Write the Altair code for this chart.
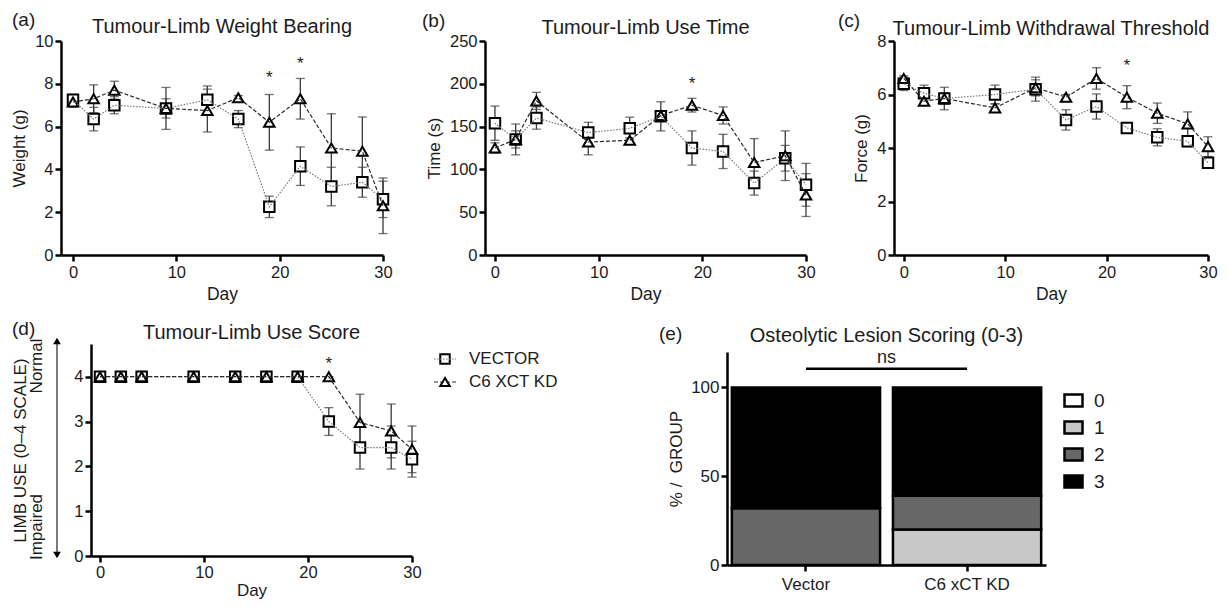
import altair as alt
import pandas as pd

FONT = "Liberation Sans"
TXT = "#1c1c1c"
ERR = "#3a3a3a"

days = [0, 2, 4, 9, 13, 16, 19, 22, 25, 28, 30]
series = ["VECTOR", "C6 XCT KD"]

# (a) Tumour-Limb Weight Bearing, g
wb_vec = [7.25, 6.35, 7.00, 6.85, 7.25, 6.35, 2.25, 4.15, 3.20, 3.40, 2.60]
wb_vec_err = [0.25, 0.55, 0.40, 0.45, 0.65, 0.40, 0.50, 0.90, 0.90, 0.70, 0.85]
wb_kd = [7.15, 7.30, 7.70, 6.85, 6.75, 7.35, 6.20, 7.30, 5.00, 4.85, 2.30]
wb_kd_err = [0.25, 0.65, 0.42, 0.98, 1.00, 0.10, 1.30, 0.95, 1.60, 1.60, 1.30]
wb_star_day = [19, 22]
wb_star_y = [8.5, 9.15]

# (b) Tumour-Limb Use Time, s
ut_vec = [154, 135, 160, 143, 148, 162, 125, 121, 84, 113, 82]
ut_vec_err = [20, 18, 13, 12, 13, 17, 20, 20, 14, 15, 25]
ut_kd = [125, 135, 180, 132, 134, 163, 175, 163, 108, 116, 70]
ut_kd_err = [6, 10, 10, 15, 3, 5, 8, 10, 28, 29, 25]
ut_star_day = [19]
ut_star_y = [206]

# (c) Tumour-Limb Withdrawal Threshold, g
wt_vec = [6.40, 6.05, 5.85, 6.00, 6.20, 5.05, 5.55, 4.75, 4.40, 4.25, 3.45]
wt_vec_err = [0.25, 0.30, 0.42, 0.35, 0.45, 0.38, 0.47, 0.12, 0.32, 0.20, 0.15]
wt_kd = [6.60, 5.75, 5.85, 5.50, 6.25, 5.90, 6.60, 5.90, 5.30, 4.90, 4.05]
wt_kd_err = [0.10, 0.15, 0.20, 0.15, 0.30, 0.10, 0.40, 0.43, 0.38, 0.45, 0.37]
wt_star_day = [22]
wt_star_y = [7.24]

# (d) Tumour-Limb Use Score, 0-4
us_vec = [4, 4, 4, 4, 4, 4, 4, 3.00, 2.42, 2.42, 2.16]
us_vec_err = [0, 0, 0, 0, 0, 0, 0, 0.31, 0.48, 0.48, 0.40]
us_kd = [4, 4, 4, 4, 4, 4, 4, 4, 2.98, 2.79, 2.38]
us_kd_err = [0, 0, 0, 0, 0, 0, 0, 0, 0.63, 0.60, 0.52]
us_star_day = [22]
us_star_y = [4.4]

# (e) Osteolytic Lesion Scoring, % of group
groups = ["Vector", "C6 xCT KD"]
scores = ["0", "1", "2", "3"]
score_colors = ["#ffffff", "#c8c8c8", "#676767", "#000000"]
pct_vector = [0, 0, 32, 68]
pct_kd = [0, 20, 19, 61]

SHAPES = ["square", "triangle-up"]
LINE_COLORS = ["#7a7a7a", "#2a2a2a"]
DASHES = [[1.5, 1.5], [4, 2]]


def series_df(vec, vec_err, kd, kd_err):
    rows = []
    for name, vals, errs in ((series[0], vec, vec_err), (series[1], kd, kd_err)):
        for d, v, e in zip(days, vals, errs):
            rows.append({"day": d, "value": v, "lo": v - e, "hi": v + e, "series": name})
    return pd.DataFrame(rows)


def txt(label, x, y, size, align="left", baseline="alphabetic", angle=0):
    kw = dict(align=align, baseline=baseline, fontSize=size, font=FONT, color=TXT)
    if angle:
        kw["angle"] = angle
    return alt.Chart(pd.DataFrame({"t": [label]})).mark_text(**kw).encode(
        x=alt.value(x), y=alt.value(y), text="t:N")


def line_panel(df, star_day, star_y, ydom, yticks, ytitle, w, h, xmin, title,
               label, label_x, label_y, title_y, ytitle_pad=6, extra=(),
               x_label_pad=3, x_title_pad=5, x_title_size=17.5):
    xs = alt.Scale(domain=[xmin, 30], nice=False, zero=False)
    ys = alt.Scale(domain=ydom, nice=False, zero=False)
    xax = alt.Axis(values=[0, 10, 20, 30], title="Day", labelPadding=x_label_pad,
                   titlePadding=x_title_pad, titleFontSize=x_title_size)
    yax = alt.Axis(values=yticks, title=ytitle, titlePadding=ytitle_pad)

    def X(f):
        return alt.X(f, type="quantitative", scale=xs, axis=xax)

    def Y(f):
        return alt.Y(f, type="quantitative", scale=ys, axis=yax)

    base = alt.Chart(df)
    bars = base.mark_rule(color=ERR, strokeWidth=1.3).encode(x=X("day"), y=Y("lo"), y2="hi")
    cap_lo = base.mark_tick(orient="horizontal", size=9, thickness=1.3, color=ERR).encode(
        x=X("day"), y=Y("lo"))
    cap_hi = base.mark_tick(orient="horizontal", size=9, thickness=1.3, color=ERR).encode(
        x=X("day"), y=Y("hi"))
    pts = base.mark_point(filled=True, fill="white", stroke="black", strokeWidth=2,
                          size=110, opacity=1).encode(
        x=X("day"), y=Y("value"),
        shape=alt.Shape("series:N", scale=alt.Scale(domain=series, range=SHAPES), legend=None))
    lines = base.mark_line(strokeWidth=1.2).encode(
        x=X("day"), y=Y("value"),
        color=alt.Color("series:N", scale=alt.Scale(domain=series, range=LINE_COLORS), legend=None),
        strokeDash=alt.StrokeDash("series:N", scale=alt.Scale(domain=series, range=DASHES), legend=None))
    stars = alt.Chart(pd.DataFrame({"day": star_day, "value": star_y})).mark_text(
        text="*", fontSize=17, font=FONT, color=TXT, baseline="middle", dy=5).encode(
        x=X("day"), y=Y("value"))
    layers = [bars, cap_lo, cap_hi, pts, lines, stars,
              txt(title, w / 2, title_y, 20, align="center"),
              txt(label, label_x, label_y, 19)] + list(extra)
    return alt.layer(*layers).properties(width=w, height=h)


A = line_panel(series_df(wb_vec, wb_vec_err, wb_kd, wb_kd_err), wb_star_day, wb_star_y,
               [0, 10], [0, 2, 4, 6, 8, 10], "Weight (g)", 322, 214, -1.16,
               "Tumour-Limb Weight Bearing", "(a)", -49, -15, -8)
B = line_panel(series_df(ut_vec, ut_vec_err, ut_kd, ut_kd_err), ut_star_day, ut_star_y,
               [0, 250], [0, 50, 100, 150, 200, 250], "Time (s)", 321, 214, -0.96,
               "Tumour-Limb Use Time", "(b)", -63, -14, -7)
C = line_panel(series_df(wt_vec, wt_vec_err, wt_kd, wt_kd_err), wt_star_day, wt_star_y,
               [0, 8], [0, 2, 4, 6, 8], "Force (g)", 314, 214, -0.96,
               "Tumour-Limb Withdrawal Threshold", "(c)", -56, -14, -6)

# (d) extra annotations on the left of the axis
arrow_shaft = alt.Chart(pd.DataFrame({"a": [0]})).mark_rule(color="#333333", strokeWidth=1.3).encode(
    x=alt.value(-34), y=alt.value(-4), y2=alt.value(212))
arrow_up = alt.Chart(pd.DataFrame({"a": [0]})).mark_point(
    shape="triangle-up", filled=True, color="black", size=60, opacity=1).encode(
    x=alt.value(-34), y=alt.value(-3))
arrow_dn = alt.Chart(pd.DataFrame({"a": [0]})).mark_point(
    shape="triangle-down", filled=True, color="black", size=60, opacity=1).encode(
    x=alt.value(-34), y=alt.value(211))
normal_t = txt("Normal", -49, 22, 17, align="center", angle=270)
impaired_t = txt("Impaired", -49, 183, 17, align="center", angle=270)

D = line_panel(series_df(us_vec, us_vec_err, us_kd, us_kd_err), us_star_day, us_star_y,
               [0, 4.73], [0, 1, 2, 3, 4], "LIMB USE (0\u20134 SCALE)", 321, 212, -0.87,
               "Tumour-Limb Use Score", "(d)", -79, -9, -5, ytitle_pad=44,
               extra=(arrow_shaft, arrow_up, arrow_dn, normal_t, impaired_t),
               x_label_pad=2, x_title_pad=2, x_title_size=17)

# legend for (d)
ld = pd.DataFrame({"series": series})
ysl = alt.Scale(domain=series, range=[15, 38], type="point", padding=0)
leg_pt = alt.Chart(ld).mark_point(filled=True, fill="white", stroke="black", strokeWidth=2,
                                  size=90, opacity=1).encode(
    x=alt.value(33), y=alt.Y("series:N", scale=ysl, axis=None),
    shape=alt.Shape("series:N", scale=alt.Scale(domain=series, range=SHAPES), legend=None))
leg_line = alt.Chart(ld).mark_rule(strokeWidth=1.2).encode(
    x=alt.value(22), x2=alt.value(44), y=alt.Y("series:N", scale=ysl, axis=None),
    color=alt.Color("series:N", scale=alt.Scale(domain=series, range=LINE_COLORS), legend=None),
    strokeDash=alt.StrokeDash("series:N", scale=alt.Scale(domain=series, range=DASHES), legend=None))
leg_txt = alt.Chart(ld).mark_text(align="left", baseline="middle", fontSize=17, font=FONT,
                                  color=TXT).encode(
    x=alt.value(57), y=alt.Y("series:N", scale=ysl, axis=None), text="series:N")
legend_d = alt.layer(leg_pt, leg_line, leg_txt).properties(width=315, height=212)

# (e) stacked bars
df_e = pd.DataFrame([{"group": g, "score": s, "pct": p}
                     for g, vals in zip(groups, [pct_vector, pct_kd])
                     for s, p in zip(scores, vals) if p > 0])
EW, EH = 319, 213
xs_e = alt.Scale(domain=groups, paddingInner=0.08, paddingOuter=0.03)
ys_e = alt.Scale(domain=[0, 120], nice=False)
xax_e = alt.Axis(title=None, labelAngle=0, labelFontSize=17, labelPadding=5)
yax_e = alt.Axis(values=[0, 50, 100], title="% /\u00a0 GROUP", titlePadding=5, labelFontSize=17)

bars_e = alt.Chart(df_e).mark_bar(stroke="black", strokeWidth=2.5).encode(
    x=alt.X("group:N", scale=xs_e, axis=xax_e),
    y=alt.Y("pct:Q", stack="zero", scale=ys_e, axis=yax_e),
    fill=alt.Fill("score:N", scale=alt.Scale(domain=scores, range=score_colors),
                  legend=alt.Legend(title=None, orient="none", legendX=1002, legendY=349,
                                    symbolType="M-1,-0.68L1,-0.68L1,0.68L-1,0.68Z",
                                    symbolSize=324, symbolStrokeColor="black",
                                    symbolStrokeWidth=2.5, labelFontSize=19, labelFont=FONT,
                                    labelColor=TXT, labelOffset=10, rowPadding=4, padding=0)),
    order=alt.Order("score:N", sort="ascending"))
ns_df = pd.DataFrame({"group": [groups[0]], "group2": [groups[1]], "pct": [110.5]})
ns_line = alt.Chart(ns_df).mark_rule(color="black", strokeWidth=2.5).encode(
    x=alt.X("group:N", scale=xs_e, axis=xax_e), x2="group2:N",
    y=alt.Y("pct:Q", scale=ys_e, axis=yax_e))
ns_txt = alt.Chart(pd.DataFrame({"t": ["ns"], "pct": [114]})).mark_text(
    align="center", baseline="alphabetic", fontSize=18, font=FONT, color=TXT).encode(
    x=alt.value(EW / 2), y=alt.Y("pct:Q", scale=ys_e, axis=yax_e), text="t:N")
E = alt.layer(bars_e, ns_line, ns_txt,
              txt("Osteolytic Lesion Scoring (0-3)", EW / 2, -10, 20, align="center"),
              txt("(e)", -68, -12, 19)).properties(width=EW, height=EH)


def spacer(w, h):
    return alt.Chart(pd.DataFrame({"a": [0]})).mark_point(opacity=0).encode(
        x=alt.value(0), y=alt.value(0)).properties(width=w, height=h)


# flush layout: leaf views count by their own width/height, nested concats count as zero
top = alt.hconcat(A, spacer(102, 214), B, spacer(88, 214), C, spacing=0, bounds="flush")
right_e = alt.vconcat(spacer(EW, 8), E, spacing=0, bounds="flush")
bottom = alt.hconcat(spacer(30, 212), D, legend_d, right_e, spacing=0, bounds="flush")

chart = alt.vconcat(top, bottom, spacing=303, bounds="flush").properties(
    padding={"left": 2, "top": 3, "right": 0, "bottom": 0}
).configure_view(stroke=None).configure_axis(
    domainColor="black", domainWidth=2.5, tickColor="black", tickWidth=2.5, tickSize=6,
    labelFont=FONT, labelFontSize=16.5, labelColor=TXT, titleFont=FONT, titleFontSize=17,
    titleColor=TXT, titleFontWeight="normal", grid=False, labelFlush=False,
    labelOverlap=False, labelPadding=2)

chart.save("out.html", embed_options={"renderer": "svg", "actions": False})
